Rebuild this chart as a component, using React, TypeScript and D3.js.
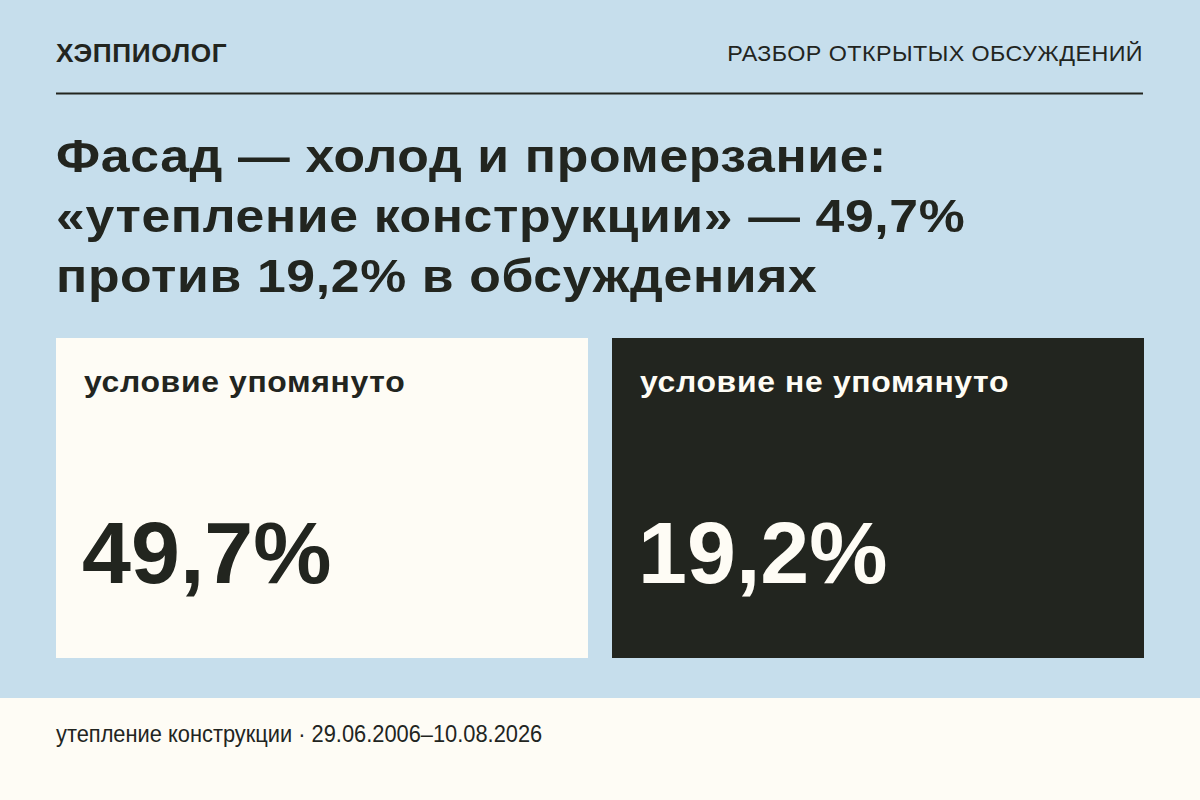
import React, { useRef, useEffect } from 'react';
import * as d3 from 'd3';

const brand = 'ХЭППИОЛОГ';
const section = 'РАЗБОР ОТКРЫТЫХ ОБСУЖДЕНИЙ';
const titleLines = [
  'Фасад — холод и промерзание:',
  '«утепление конструкции» — 49,7%',
  'против 19,2% в обсуждениях',
];
const categories = ['условие упомянуто', 'условие не упомянуто'];
const shares = [49.7, 19.2];
const footnote = 'утепление конструкции · 29.06.2006–10.08.2026';

const W = 1200;
const H = 800;
const FONT = '"Liberation Sans", Arial, Helvetica, sans-serif';
const INK = '#22251f';
const SKY = '#c6deec';
const CREAM = '#fefcf5';

const fmt = (v: number) => d3.format('.1f')(v).replace('.', ',') + '%';

const App: React.FC = () => {
  const svgRef = useRef<SVGSVGElement>(null);

  useEffect(() => {
    if (!svgRef.current) return;
    document.body.style.margin = '0';

    const svg = d3.select(svgRef.current)
      .attr('width', W)
      .attr('height', H)
      .attr('viewBox', [0, 0, W, H])
      .style('display', 'block')
      .style('font-family', FONT);

    svg.selectAll('*').remove();

    const left = 56;
    const right = 1144;

    svg.append('rect').attr('width', W).attr('height', H).attr('fill', SKY);

    // header (the reference face is a touch wider than Liberation, so stretch slightly)
    svg.append('text')
      .attr('transform', `translate(${left},62) scale(1.05,1)`)
      .attr('fill', INK)
      .style('font-size', '25px')
      .style('font-weight', 'bold')
      .style('letter-spacing', '0.6px')
      .text(brand);

    svg.append('text')
      .attr('transform', `translate(${right - 1},61) scale(1.06,1)`)
      .attr('text-anchor', 'end')
      .attr('fill', INK)
      .style('font-size', '22px')
      .style('letter-spacing', '0.4px')
      .text(section);

    svg.append('line')
      .attr('x1', left).attr('x2', right - 1)
      .attr('y1', 93.5).attr('y2', 93.5)
      .attr('stroke', INK)
      .attr('stroke-width', 2);

    // title
    svg.append('g')
      .selectAll('text')
      .data(titleLines)
      .join('text')
      .attr('transform', (_, i) => `translate(${left},${172 + i * 60}) scale(1.1,1)`)
      .attr('fill', INK)
      .style('font-size', '47px')
      .style('font-weight', 'bold')
      .style('letter-spacing', '0.6px')
      .text(d => d);

    // panels
    const x = d3.scaleBand<string>()
      .domain(categories)
      .range([left, right])
      .paddingInner(24 / 556)
      .paddingOuter(0);

    const panelTop = 338;
    const panelBottom = 658;

    const panel = svg.append('g')
      .selectAll('g')
      .data(categories.map((c, i) => ({ c, v: shares[i], i })))
      .join('g')
      .attr('transform', d => `translate(${x(d.c)},${panelTop})`);

    panel.append('rect')
      .attr('width', x.bandwidth())
      .attr('height', panelBottom - panelTop)
      .attr('fill', d => (d.i === 0 ? CREAM : INK));

    panel.append('text')
      .attr('transform', 'translate(28,54) scale(1.1,1)')
      .attr('fill', d => (d.i === 0 ? INK : CREAM))
      .style('font-size', '29px')
      .style('font-weight', 'bold')
      .style('letter-spacing', '0.6px')
      .text(d => d.c);

    panel.append('text')
      .attr('x', 26).attr('y', 245)
      .attr('fill', d => (d.i === 0 ? INK : CREAM))
      .style('font-size', '88px')
      .style('font-weight', 'bold')
      .text(d => fmt(d.v));

    // footer band
    svg.append('rect')
      .attr('x', 0).attr('y', 698)
      .attr('width', W).attr('height', H - 698)
      .attr('fill', CREAM);

    svg.append('text')
      .attr('transform', `translate(${left},742) scale(0.91,1)`)
      .attr('fill', INK)
      .style('font-size', '24px')
      .text(footnote);
  }, []);

  return (
    <div>
      <svg ref={svgRef}></svg>
    </div>
  );
};

export default App;
